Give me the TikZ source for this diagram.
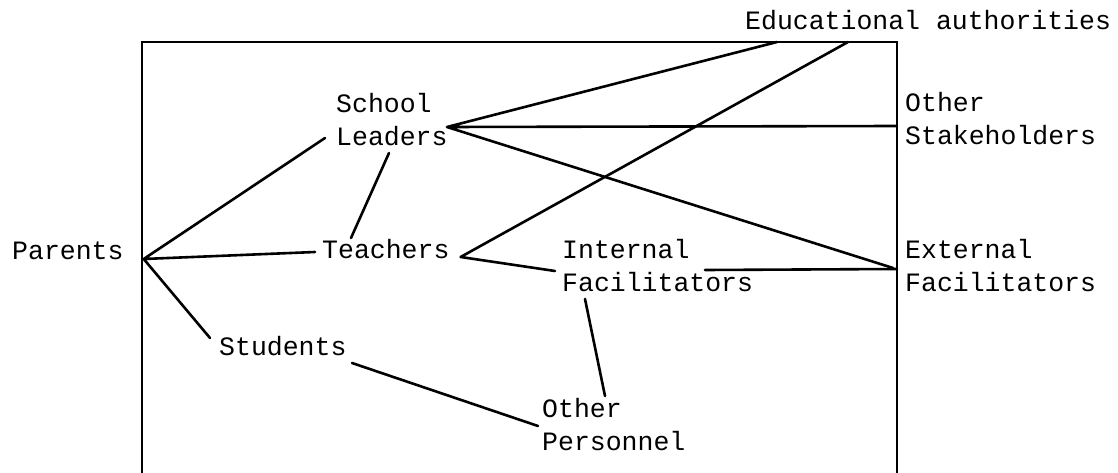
\documentclass[tikz,border=0pt]{standalone}
\usepackage{fontspec}
\usetikzlibrary{calc,positioning}
\newfontfamily\actorfont{Liberation Mono}

\begin{document}
\begin{tikzpicture}[x=1pt,y=-1pt,
		actor/.style={anchor=base west,inner sep=0pt,align=left,
			font=\actorfont\fontsize{26.5}{33}\selectfont},
		link/.style={line width=2.6pt,line cap=round,line join=round},
		frame/.style={line width=1.8pt}]
				\useasboundingbox (0, 0) rectangle (1118, 473);
				% Points
				\coordinate (TL) at (142, 42);
				\coordinate (TR) at (897, 42);
				\coordinate (BR) at (897, 473);
				\coordinate (BL) at (142, 473);

				% Frame
				\draw[frame] (BL) -- (TL) -- (TR) -- (BR);

				% Actors (base = last line)
				\node[actor] (edu) at (745, 30) {Educational authorities};
				\node[actor] (lead) at (336, 146) {School\\Leaders};
				\node[actor] (stake) at (905, 145) {Other\\Stakeholders};
				\node[actor] (par) at (12, 259) {Parents};
				\node[actor] (teach) at (322, 258) {Teachers};
				\node[actor] (intf) at (562, 291) {Internal\\Facilitators};
				\node[actor] (extf) at (905, 291) {External\\Facilitators};
				\node[actor] (stud) at (219, 355) {Students};
				\node[actor] (pers) at (542, 450) {Other\\Personnel};

				% Parents
				\draw[link]
					([xshift=20pt]par.base east) -- ([xshift=-11pt,yshift=8pt]lead.base west)
					([xshift=20pt]par.base east) -- ([xshift=-7pt,yshift=6pt]teach.base west)
					([xshift=20pt]par.base east) -- ([xshift=-9pt,yshift=17pt]stud.base west)
					;

				% School leaders
				\draw[link]
					([xshift=53pt,yshift=-7pt]lead.base west) -- ([xshift=29pt,yshift=20pt]teach.base west)
					([xshift=111pt,yshift=19pt]lead.base west) -- ([xshift=32pt,yshift=-12pt]edu.base west)
					([xshift=111pt,yshift=19pt]lead.base west) -- ([xshift=-8pt,yshift=19pt]stake.base west)
					([xshift=111pt,yshift=19pt]lead.base west) -- ([xshift=-12pt,yshift=23pt]extf.base west)
					;

				% Teachers
				\draw[link]
					([xshift=11pt,yshift=1pt]teach.base east) -- ([xshift=103pt,yshift=-12pt]edu.base west)
					([xshift=11pt,yshift=1pt]teach.base east) -- ([xshift=-7pt,yshift=20pt]intf.base west)
					;

				% Facilitators and personnel
				\draw[link]
					([xshift=143pt,yshift=21pt]intf.base west) -- ([xshift=-8pt,yshift=22pt]extf.base west)
					([xshift=23pt,yshift=-8pt]intf.base west) -- ([xshift=63pt,yshift=54pt]pers.base west)
					([xshift=133pt,yshift=-8pt]stud.base west) -- ([xshift=-4pt,yshift=24pt]pers.base west)
					;
			\end{tikzpicture}
\end{document}
